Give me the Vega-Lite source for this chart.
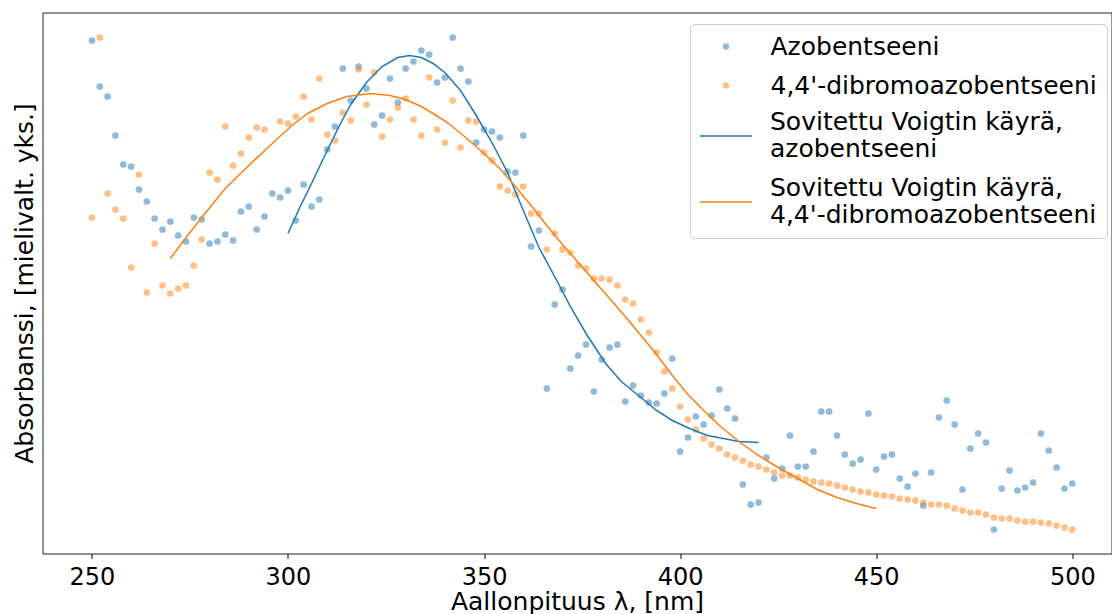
{
  "$schema": "https://vega.github.io/schema/vega-lite/v6.json",
  "autosize": {"type": "none"},
  "padding": {"left": 42.5, "top": 12.5, "right": 0.5, "bottom": 60.5},
  "width": 1069,
  "height": 541,
  "background": "white",
  "config": {
    "font": "DejaVu Sans",
    "view": {"stroke": "#222222", "strokeWidth": 1},
    "axis": {"grid": false, "titleFontWeight": "normal", "titleColor": "black", "labelColor": "black", "titleFont": "DejaVu Sans", "labelFont": "DejaVu Sans"}
  },
  "datasets": {
    "points": [
      {"wl":250,"abs":513,"series":"Azobentseeni"},{"wl":252,"abs":467,"series":"Azobentseeni"},{"wl":254,"abs":457,"series":"Azobentseeni"},{"wl":256,"abs":418,"series":"Azobentseeni"},{"wl":258,"abs":389,"series":"Azobentseeni"},{"wl":260,"abs":387,"series":"Azobentseeni"},{"wl":262,"abs":364,"series":"Azobentseeni"},{"wl":264,"abs":352,"series":"Azobentseeni"},{"wl":266,"abs":335,"series":"Azobentseeni"},{"wl":268,"abs":324,"series":"Azobentseeni"},{"wl":270,"abs":332,"series":"Azobentseeni"},{"wl":272,"abs":318,"series":"Azobentseeni"},{"wl":274,"abs":312,"series":"Azobentseeni"},{"wl":276,"abs":336,"series":"Azobentseeni"},{"wl":278,"abs":334,"series":"Azobentseeni"},{"wl":280,"abs":310,"series":"Azobentseeni"},{"wl":282,"abs":312,"series":"Azobentseeni"},{"wl":284,"abs":319,"series":"Azobentseeni"},{"wl":286,"abs":313,"series":"Azobentseeni"},{"wl":288,"abs":342,"series":"Azobentseeni"},{"wl":290,"abs":347,"series":"Azobentseeni"},{"wl":292,"abs":324,"series":"Azobentseeni"},{"wl":294,"abs":337,"series":"Azobentseeni"},{"wl":296,"abs":360,"series":"Azobentseeni"},{"wl":298,"abs":356,"series":"Azobentseeni"},{"wl":300,"abs":363,"series":"Azobentseeni"},{"wl":302,"abs":333,"series":"Azobentseeni"},{"wl":304,"abs":369,"series":"Azobentseeni"},{"wl":306,"abs":347,"series":"Azobentseeni"},{"wl":308,"abs":354,"series":"Azobentseeni"},{"wl":310,"abs":404,"series":"Azobentseeni"},{"wl":312,"abs":427,"series":"Azobentseeni"},{"wl":314,"abs":485,"series":"Azobentseeni"},{"wl":316,"abs":453,"series":"Azobentseeni"},{"wl":318,"abs":487,"series":"Azobentseeni"},{"wl":320,"abs":465,"series":"Azobentseeni"},{"wl":322,"abs":429,"series":"Azobentseeni"},{"wl":324,"abs":438,"series":"Azobentseeni"},{"wl":326,"abs":475,"series":"Azobentseeni"},{"wl":328,"abs":451,"series":"Azobentseeni"},{"wl":330,"abs":485,"series":"Azobentseeni"},{"wl":332,"abs":492,"series":"Azobentseeni"},{"wl":334,"abs":503,"series":"Azobentseeni"},{"wl":336,"abs":499,"series":"Azobentseeni"},{"wl":338,"abs":471,"series":"Azobentseeni"},{"wl":340,"abs":476,"series":"Azobentseeni"},{"wl":342,"abs":516,"series":"Azobentseeni"},{"wl":344,"abs":485,"series":"Azobentseeni"},{"wl":346,"abs":472,"series":"Azobentseeni"},{"wl":348,"abs":411,"series":"Azobentseeni"},{"wl":350,"abs":424,"series":"Azobentseeni"},{"wl":352,"abs":422,"series":"Azobentseeni"},{"wl":354,"abs":416,"series":"Azobentseeni"},{"wl":356,"abs":382,"series":"Azobentseeni"},{"wl":358,"abs":381,"series":"Azobentseeni"},{"wl":360,"abs":418,"series":"Azobentseeni"},{"wl":362,"abs":307,"series":"Azobentseeni"},{"wl":364,"abs":323,"series":"Azobentseeni"},{"wl":366,"abs":165,"series":"Azobentseeni"},{"wl":368,"abs":249,"series":"Azobentseeni"},{"wl":370,"abs":264,"series":"Azobentseeni"},{"wl":372,"abs":185,"series":"Azobentseeni"},{"wl":374,"abs":198,"series":"Azobentseeni"},{"wl":376,"abs":209,"series":"Azobentseeni"},{"wl":378,"abs":162,"series":"Azobentseeni"},{"wl":380,"abs":194,"series":"Azobentseeni"},{"wl":382,"abs":206,"series":"Azobentseeni"},{"wl":384,"abs":209,"series":"Azobentseeni"},{"wl":386,"abs":152,"series":"Azobentseeni"},{"wl":388,"abs":168,"series":"Azobentseeni"},{"wl":390,"abs":158,"series":"Azobentseeni"},{"wl":392,"abs":151,"series":"Azobentseeni"},{"wl":394,"abs":150,"series":"Azobentseeni"},{"wl":396,"abs":160,"series":"Azobentseeni"},{"wl":398,"abs":195,"series":"Azobentseeni"},{"wl":400,"abs":102,"series":"Azobentseeni"},{"wl":402,"abs":116,"series":"Azobentseeni"},{"wl":404,"abs":137,"series":"Azobentseeni"},{"wl":406,"abs":129,"series":"Azobentseeni"},{"wl":408,"abs":138,"series":"Azobentseeni"},{"wl":410,"abs":164,"series":"Azobentseeni"},{"wl":412,"abs":145,"series":"Azobentseeni"},{"wl":414,"abs":135,"series":"Azobentseeni"},{"wl":416,"abs":69,"series":"Azobentseeni"},{"wl":418,"abs":49,"series":"Azobentseeni"},{"wl":420,"abs":51,"series":"Azobentseeni"},{"wl":422,"abs":96,"series":"Azobentseeni"},{"wl":424,"abs":75,"series":"Azobentseeni"},{"wl":426,"abs":85,"series":"Azobentseeni"},{"wl":428,"abs":118,"series":"Azobentseeni"},{"wl":430,"abs":87,"series":"Azobentseeni"},{"wl":432,"abs":87,"series":"Azobentseeni"},{"wl":434,"abs":102,"series":"Azobentseeni"},{"wl":436,"abs":142,"series":"Azobentseeni"},{"wl":438,"abs":142,"series":"Azobentseeni"},{"wl":440,"abs":118,"series":"Azobentseeni"},{"wl":442,"abs":99,"series":"Azobentseeni"},{"wl":444,"abs":90,"series":"Azobentseeni"},{"wl":446,"abs":94,"series":"Azobentseeni"},{"wl":448,"abs":140,"series":"Azobentseeni"},{"wl":450,"abs":84,"series":"Azobentseeni"},{"wl":452,"abs":97,"series":"Azobentseeni"},{"wl":454,"abs":99,"series":"Azobentseeni"},{"wl":456,"abs":75,"series":"Azobentseeni"},{"wl":458,"abs":67,"series":"Azobentseeni"},{"wl":460,"abs":80,"series":"Azobentseeni"},{"wl":462,"abs":48,"series":"Azobentseeni"},{"wl":464,"abs":81,"series":"Azobentseeni"},{"wl":466,"abs":136,"series":"Azobentseeni"},{"wl":468,"abs":153,"series":"Azobentseeni"},{"wl":470,"abs":129,"series":"Azobentseeni"},{"wl":472,"abs":64,"series":"Azobentseeni"},{"wl":474,"abs":105,"series":"Azobentseeni"},{"wl":476,"abs":120,"series":"Azobentseeni"},{"wl":478,"abs":111,"series":"Azobentseeni"},{"wl":480,"abs":24,"series":"Azobentseeni"},{"wl":482,"abs":65,"series":"Azobentseeni"},{"wl":484,"abs":83,"series":"Azobentseeni"},{"wl":486,"abs":63,"series":"Azobentseeni"},{"wl":488,"abs":66,"series":"Azobentseeni"},{"wl":490,"abs":71,"series":"Azobentseeni"},{"wl":492,"abs":120,"series":"Azobentseeni"},{"wl":494,"abs":103,"series":"Azobentseeni"},{"wl":496,"abs":86,"series":"Azobentseeni"},{"wl":498,"abs":65,"series":"Azobentseeni"},{"wl":500,"abs":70,"series":"Azobentseeni"},
      {"wl":250,"abs":336,"series":"4,4'-dibromoazobentseeni"},{"wl":252,"abs":516,"series":"4,4'-dibromoazobentseeni"},{"wl":254,"abs":360,"series":"4,4'-dibromoazobentseeni"},{"wl":256,"abs":344,"series":"4,4'-dibromoazobentseeni"},{"wl":258,"abs":335,"series":"4,4'-dibromoazobentseeni"},{"wl":260,"abs":286,"series":"4,4'-dibromoazobentseeni"},{"wl":262,"abs":379,"series":"4,4'-dibromoazobentseeni"},{"wl":264,"abs":261,"series":"4,4'-dibromoazobentseeni"},{"wl":266,"abs":310,"series":"4,4'-dibromoazobentseeni"},{"wl":268,"abs":268,"series":"4,4'-dibromoazobentseeni"},{"wl":270,"abs":260,"series":"4,4'-dibromoazobentseeni"},{"wl":272,"abs":265,"series":"4,4'-dibromoazobentseeni"},{"wl":274,"abs":268,"series":"4,4'-dibromoazobentseeni"},{"wl":276,"abs":288,"series":"4,4'-dibromoazobentseeni"},{"wl":278,"abs":314,"series":"4,4'-dibromoazobentseeni"},{"wl":280,"abs":381,"series":"4,4'-dibromoazobentseeni"},{"wl":282,"abs":374,"series":"4,4'-dibromoazobentseeni"},{"wl":284,"abs":427,"series":"4,4'-dibromoazobentseeni"},{"wl":286,"abs":388,"series":"4,4'-dibromoazobentseeni"},{"wl":288,"abs":400,"series":"4,4'-dibromoazobentseeni"},{"wl":290,"abs":416,"series":"4,4'-dibromoazobentseeni"},{"wl":292,"abs":426,"series":"4,4'-dibromoazobentseeni"},{"wl":294,"abs":424,"series":"4,4'-dibromoazobentseeni"},{"wl":298,"abs":432,"series":"4,4'-dibromoazobentseeni"},{"wl":300,"abs":430,"series":"4,4'-dibromoazobentseeni"},{"wl":302,"abs":437,"series":"4,4'-dibromoazobentseeni"},{"wl":304,"abs":457,"series":"4,4'-dibromoazobentseeni"},{"wl":306,"abs":434,"series":"4,4'-dibromoazobentseeni"},{"wl":308,"abs":475,"series":"4,4'-dibromoazobentseeni"},{"wl":310,"abs":419,"series":"4,4'-dibromoazobentseeni"},{"wl":312,"abs":413,"series":"4,4'-dibromoazobentseeni"},{"wl":314,"abs":441,"series":"4,4'-dibromoazobentseeni"},{"wl":316,"abs":433,"series":"4,4'-dibromoazobentseeni"},{"wl":318,"abs":484,"series":"4,4'-dibromoazobentseeni"},{"wl":320,"abs":449,"series":"4,4'-dibromoazobentseeni"},{"wl":322,"abs":481,"series":"4,4'-dibromoazobentseeni"},{"wl":324,"abs":417,"series":"4,4'-dibromoazobentseeni"},{"wl":326,"abs":434,"series":"4,4'-dibromoazobentseeni"},{"wl":328,"abs":446,"series":"4,4'-dibromoazobentseeni"},{"wl":330,"abs":455,"series":"4,4'-dibromoazobentseeni"},{"wl":332,"abs":434,"series":"4,4'-dibromoazobentseeni"},{"wl":334,"abs":418,"series":"4,4'-dibromoazobentseeni"},{"wl":336,"abs":476,"series":"4,4'-dibromoazobentseeni"},{"wl":338,"abs":424,"series":"4,4'-dibromoazobentseeni"},{"wl":340,"abs":411,"series":"4,4'-dibromoazobentseeni"},{"wl":342,"abs":453,"series":"4,4'-dibromoazobentseeni"},{"wl":344,"abs":406,"series":"4,4'-dibromoazobentseeni"},{"wl":346,"abs":433,"series":"4,4'-dibromoazobentseeni"},{"wl":348,"abs":432,"series":"4,4'-dibromoazobentseeni"},{"wl":350,"abs":401,"series":"4,4'-dibromoazobentseeni"},{"wl":352,"abs":393,"series":"4,4'-dibromoazobentseeni"},{"wl":354,"abs":367,"series":"4,4'-dibromoazobentseeni"},{"wl":356,"abs":363,"series":"4,4'-dibromoazobentseeni"},{"wl":358,"abs":359,"series":"4,4'-dibromoazobentseeni"},{"wl":360,"abs":367,"series":"4,4'-dibromoazobentseeni"},{"wl":362,"abs":340,"series":"4,4'-dibromoazobentseeni"},{"wl":364,"abs":340,"series":"4,4'-dibromoazobentseeni"},{"wl":366,"abs":304,"series":"4,4'-dibromoazobentseeni"},{"wl":368,"abs":320,"series":"4,4'-dibromoazobentseeni"},{"wl":370,"abs":304,"series":"4,4'-dibromoazobentseeni"},{"wl":372,"abs":301,"series":"4,4'-dibromoazobentseeni"},{"wl":374,"abs":288,"series":"4,4'-dibromoazobentseeni"},{"wl":376,"abs":285,"series":"4,4'-dibromoazobentseeni"},{"wl":378,"abs":275,"series":"4,4'-dibromoazobentseeni"},{"wl":380,"abs":275,"series":"4,4'-dibromoazobentseeni"},{"wl":382,"abs":274,"series":"4,4'-dibromoazobentseeni"},{"wl":384,"abs":268,"series":"4,4'-dibromoazobentseeni"},{"wl":386,"abs":254,"series":"4,4'-dibromoazobentseeni"},{"wl":388,"abs":250,"series":"4,4'-dibromoazobentseeni"},{"wl":390,"abs":234,"series":"4,4'-dibromoazobentseeni"},{"wl":392,"abs":221,"series":"4,4'-dibromoazobentseeni"},{"wl":394,"abs":201,"series":"4,4'-dibromoazobentseeni"},{"wl":396,"abs":182,"series":"4,4'-dibromoazobentseeni"},{"wl":398,"abs":165,"series":"4,4'-dibromoazobentseeni"},{"wl":400,"abs":147,"series":"4,4'-dibromoazobentseeni"},{"wl":402,"abs":134,"series":"4,4'-dibromoazobentseeni"},{"wl":404,"abs":124,"series":"4,4'-dibromoazobentseeni"},{"wl":406,"abs":115,"series":"4,4'-dibromoazobentseeni"},{"wl":408,"abs":109,"series":"4,4'-dibromoazobentseeni"},{"wl":410,"abs":105,"series":"4,4'-dibromoazobentseeni"},{"wl":412,"abs":99,"series":"4,4'-dibromoazobentseeni"},{"wl":414,"abs":96,"series":"4,4'-dibromoazobentseeni"},{"wl":416,"abs":93,"series":"4,4'-dibromoazobentseeni"},{"wl":418,"abs":89,"series":"4,4'-dibromoazobentseeni"},{"wl":420,"abs":87,"series":"4,4'-dibromoazobentseeni"},{"wl":422,"abs":84,"series":"4,4'-dibromoazobentseeni"},{"wl":424,"abs":81,"series":"4,4'-dibromoazobentseeni"},{"wl":426,"abs":78,"series":"4,4'-dibromoazobentseeni"},{"wl":428,"abs":78,"series":"4,4'-dibromoazobentseeni"},{"wl":430,"abs":76,"series":"4,4'-dibromoazobentseeni"},{"wl":432,"abs":74,"series":"4,4'-dibromoazobentseeni"},{"wl":434,"abs":72,"series":"4,4'-dibromoazobentseeni"},{"wl":436,"abs":71,"series":"4,4'-dibromoazobentseeni"},{"wl":438,"abs":70,"series":"4,4'-dibromoazobentseeni"},{"wl":440,"abs":68,"series":"4,4'-dibromoazobentseeni"},{"wl":442,"abs":66,"series":"4,4'-dibromoazobentseeni"},{"wl":444,"abs":64,"series":"4,4'-dibromoazobentseeni"},{"wl":446,"abs":62,"series":"4,4'-dibromoazobentseeni"},{"wl":448,"abs":61,"series":"4,4'-dibromoazobentseeni"},{"wl":450,"abs":59,"series":"4,4'-dibromoazobentseeni"},{"wl":452,"abs":58,"series":"4,4'-dibromoazobentseeni"},{"wl":454,"abs":57,"series":"4,4'-dibromoazobentseeni"},{"wl":456,"abs":55,"series":"4,4'-dibromoazobentseeni"},{"wl":458,"abs":54,"series":"4,4'-dibromoazobentseeni"},{"wl":460,"abs":53,"series":"4,4'-dibromoazobentseeni"},{"wl":462,"abs":51,"series":"4,4'-dibromoazobentseeni"},{"wl":464,"abs":49,"series":"4,4'-dibromoazobentseeni"},{"wl":466,"abs":49,"series":"4,4'-dibromoazobentseeni"},{"wl":468,"abs":48,"series":"4,4'-dibromoazobentseeni"},{"wl":470,"abs":45,"series":"4,4'-dibromoazobentseeni"},{"wl":472,"abs":43,"series":"4,4'-dibromoazobentseeni"},{"wl":474,"abs":41,"series":"4,4'-dibromoazobentseeni"},{"wl":476,"abs":41,"series":"4,4'-dibromoazobentseeni"},{"wl":478,"abs":39,"series":"4,4'-dibromoazobentseeni"},{"wl":480,"abs":36,"series":"4,4'-dibromoazobentseeni"},{"wl":482,"abs":35,"series":"4,4'-dibromoazobentseeni"},{"wl":484,"abs":35,"series":"4,4'-dibromoazobentseeni"},{"wl":486,"abs":33,"series":"4,4'-dibromoazobentseeni"},{"wl":488,"abs":32,"series":"4,4'-dibromoazobentseeni"},{"wl":490,"abs":32,"series":"4,4'-dibromoazobentseeni"},{"wl":492,"abs":31,"series":"4,4'-dibromoazobentseeni"},{"wl":494,"abs":30,"series":"4,4'-dibromoazobentseeni"},{"wl":496,"abs":28,"series":"4,4'-dibromoazobentseeni"},{"wl":498,"abs":26,"series":"4,4'-dibromoazobentseeni"},{"wl":500,"abs":24,"series":"4,4'-dibromoazobentseeni"}
    ],
    "fits": [
      {"wl":300,"abs":320,"series":"Sovitettu Voigtin käyrä,|azobentseeni"},{"wl":303,"abs":346,"series":"Sovitettu Voigtin käyrä,|azobentseeni"},{"wl":306,"abs":370,"series":"Sovitettu Voigtin käyrä,|azobentseeni"},{"wl":310,"abs":403,"series":"Sovitettu Voigtin käyrä,|azobentseeni"},{"wl":313,"abs":427,"series":"Sovitettu Voigtin käyrä,|azobentseeni"},{"wl":316,"abs":449,"series":"Sovitettu Voigtin käyrä,|azobentseeni"},{"wl":320,"abs":471,"series":"Sovitettu Voigtin käyrä,|azobentseeni"},{"wl":324,"abs":487,"series":"Sovitettu Voigtin käyrä,|azobentseeni"},{"wl":328,"abs":496,"series":"Sovitettu Voigtin käyrä,|azobentseeni"},{"wl":331,"abs":498,"series":"Sovitettu Voigtin käyrä,|azobentseeni"},{"wl":334,"abs":496,"series":"Sovitettu Voigtin käyrä,|azobentseeni"},{"wl":337,"abs":490,"series":"Sovitettu Voigtin käyrä,|azobentseeni"},{"wl":340,"abs":481,"series":"Sovitettu Voigtin käyrä,|azobentseeni"},{"wl":344,"abs":463,"series":"Sovitettu Voigtin käyrä,|azobentseeni"},{"wl":348,"abs":438,"series":"Sovitettu Voigtin käyrä,|azobentseeni"},{"wl":352,"abs":411,"series":"Sovitettu Voigtin käyrä,|azobentseeni"},{"wl":356,"abs":381,"series":"Sovitettu Voigtin käyrä,|azobentseeni"},{"wl":360,"abs":343,"series":"Sovitettu Voigtin käyrä,|azobentseeni"},{"wl":364,"abs":306,"series":"Sovitettu Voigtin käyrä,|azobentseeni"},{"wl":368,"abs":277,"series":"Sovitettu Voigtin käyrä,|azobentseeni"},{"wl":372,"abs":247,"series":"Sovitettu Voigtin käyrä,|azobentseeni"},{"wl":376,"abs":220,"series":"Sovitettu Voigtin käyrä,|azobentseeni"},{"wl":381,"abs":190,"series":"Sovitettu Voigtin käyrä,|azobentseeni"},{"wl":385,"abs":172,"series":"Sovitettu Voigtin käyrä,|azobentseeni"},{"wl":390,"abs":156,"series":"Sovitettu Voigtin käyrä,|azobentseeni"},{"wl":394,"abs":143,"series":"Sovitettu Voigtin käyrä,|azobentseeni"},{"wl":398,"abs":133,"series":"Sovitettu Voigtin käyrä,|azobentseeni"},{"wl":403,"abs":124,"series":"Sovitettu Voigtin käyrä,|azobentseeni"},{"wl":407,"abs":118,"series":"Sovitettu Voigtin käyrä,|azobentseeni"},{"wl":411,"abs":115,"series":"Sovitettu Voigtin käyrä,|azobentseeni"},{"wl":415,"abs":112,"series":"Sovitettu Voigtin käyrä,|azobentseeni"},{"wl":420,"abs":111,"series":"Sovitettu Voigtin käyrä,|azobentseeni"},
      {"wl":270,"abs":295,"series":"Sovitettu Voigtin käyrä,|4,4'-dibromoazobentseeni"},{"wl":274,"abs":316,"series":"Sovitettu Voigtin käyrä,|4,4'-dibromoazobentseeni"},{"wl":278,"abs":336,"series":"Sovitettu Voigtin käyrä,|4,4'-dibromoazobentseeni"},{"wl":284,"abs":365,"series":"Sovitettu Voigtin käyrä,|4,4'-dibromoazobentseeni"},{"wl":290,"abs":388,"series":"Sovitettu Voigtin käyrä,|4,4'-dibromoazobentseeni"},{"wl":296,"abs":410,"series":"Sovitettu Voigtin käyrä,|4,4'-dibromoazobentseeni"},{"wl":301,"abs":428,"series":"Sovitettu Voigtin käyrä,|4,4'-dibromoazobentseeni"},{"wl":305,"abs":440,"series":"Sovitettu Voigtin käyrä,|4,4'-dibromoazobentseeni"},{"wl":310,"abs":450,"series":"Sovitettu Voigtin käyrä,|4,4'-dibromoazobentseeni"},{"wl":315,"abs":457,"series":"Sovitettu Voigtin käyrä,|4,4'-dibromoazobentseeni"},{"wl":321,"abs":460,"series":"Sovitettu Voigtin käyrä,|4,4'-dibromoazobentseeni"},{"wl":326,"abs":458,"series":"Sovitettu Voigtin käyrä,|4,4'-dibromoazobentseeni"},{"wl":330,"abs":454,"series":"Sovitettu Voigtin käyrä,|4,4'-dibromoazobentseeni"},{"wl":334,"abs":447,"series":"Sovitettu Voigtin käyrä,|4,4'-dibromoazobentseeni"},{"wl":337,"abs":440,"series":"Sovitettu Voigtin käyrä,|4,4'-dibromoazobentseeni"},{"wl":341,"abs":430,"series":"Sovitettu Voigtin käyrä,|4,4'-dibromoazobentseeni"},{"wl":345,"abs":417,"series":"Sovitettu Voigtin käyrä,|4,4'-dibromoazobentseeni"},{"wl":350,"abs":400,"series":"Sovitettu Voigtin käyrä,|4,4'-dibromoazobentseeni"},{"wl":354,"abs":385,"series":"Sovitettu Voigtin käyrä,|4,4'-dibromoazobentseeni"},{"wl":358,"abs":367,"series":"Sovitettu Voigtin käyrä,|4,4'-dibromoazobentseeni"},{"wl":362,"abs":348,"series":"Sovitettu Voigtin käyrä,|4,4'-dibromoazobentseeni"},{"wl":366,"abs":328,"series":"Sovitettu Voigtin käyrä,|4,4'-dibromoazobentseeni"},{"wl":370,"abs":309,"series":"Sovitettu Voigtin käyrä,|4,4'-dibromoazobentseeni"},{"wl":374,"abs":291,"series":"Sovitettu Voigtin käyrä,|4,4'-dibromoazobentseeni"},{"wl":378,"abs":273,"series":"Sovitettu Voigtin käyrä,|4,4'-dibromoazobentseeni"},{"wl":382,"abs":255,"series":"Sovitettu Voigtin käyrä,|4,4'-dibromoazobentseeni"},{"wl":386,"abs":237,"series":"Sovitettu Voigtin käyrä,|4,4'-dibromoazobentseeni"},{"wl":390,"abs":218,"series":"Sovitettu Voigtin käyrä,|4,4'-dibromoazobentseeni"},{"wl":394,"abs":199,"series":"Sovitettu Voigtin käyrä,|4,4'-dibromoazobentseeni"},{"wl":398,"abs":178,"series":"Sovitettu Voigtin käyrä,|4,4'-dibromoazobentseeni"},{"wl":402,"abs":159,"series":"Sovitettu Voigtin käyrä,|4,4'-dibromoazobentseeni"},{"wl":406,"abs":143,"series":"Sovitettu Voigtin käyrä,|4,4'-dibromoazobentseeni"},{"wl":410,"abs":128,"series":"Sovitettu Voigtin käyrä,|4,4'-dibromoazobentseeni"},{"wl":415,"abs":112,"series":"Sovitettu Voigtin käyrä,|4,4'-dibromoazobentseeni"},{"wl":420,"abs":98,"series":"Sovitettu Voigtin käyrä,|4,4'-dibromoazobentseeni"},{"wl":425,"abs":86,"series":"Sovitettu Voigtin käyrä,|4,4'-dibromoazobentseeni"},{"wl":430,"abs":75,"series":"Sovitettu Voigtin käyrä,|4,4'-dibromoazobentseeni"},{"wl":435,"abs":64,"series":"Sovitettu Voigtin käyrä,|4,4'-dibromoazobentseeni"},{"wl":440,"abs":56,"series":"Sovitettu Voigtin käyrä,|4,4'-dibromoazobentseeni"},{"wl":445,"abs":50,"series":"Sovitettu Voigtin käyrä,|4,4'-dibromoazobentseeni"},{"wl":450,"abs":45,"series":"Sovitettu Voigtin käyrä,|4,4'-dibromoazobentseeni"}
    ]
  },
  "encoding": {
    "x": {
      "field": "wl", "type": "quantitative",
      "scale": {"domain": [237.4, 510], "nice": false, "zero": false},
      "axis": {"title": "Aallonpituus λ, [nm]", "values": [250, 300, 350, 400, 450, 500], "domain": false, "ticks": true, "tickSize": 5, "tickColor": "black", "labelFontSize": 24, "labelPadding": 7, "titleFontSize": 25, "titlePadding": 0, "labelFlush": false}
    },
    "y": {
      "field": "abs", "type": "quantitative",
      "scale": {"domain": [0, 541], "nice": false, "zero": false},
      "axis": {"title": "Absorbanssi, [mielivalt. yks.]", "labels": false, "ticks": false, "domain": false, "titleFontSize": 25, "titlePadding": 5}
    }
  },
  "layer": [
    {
      "data": {"name": "points"},
      "mark": {"type": "point", "filled": true, "opacity": 0.5, "size": 45, "strokeWidth": 0},
      "encoding": {
        "fill": {
          "field": "series", "type": "nominal",
          "scale": {"domain": ["Azobentseeni", "4,4'-dibromoazobentseeni"], "range": ["#1f77b4", "#ff7f0e"]},
          "legend": {
            "title": null,
            "orient": "none",
            "legendX": 647.5,
            "legendY": 11.5,
            "labelFontSize": 25,
            "labelFont": "DejaVu Sans",
            "labelColor": "black",
            "labelLimit": 600,
            "labelOffset": 32,
            "symbolOffset": 13.5,
            "symbolSize": 40,
            "symbolType": "circle",
            "rowPadding": 13,
            "padding": 10,
            "fillColor": null,
            "strokeColor": null
          }
        }
      }
    },
    {
      "data": {"name": "fits"},
      "mark": {"type": "line", "strokeWidth": 1.5},
      "encoding": {
        "stroke": {
          "field": "series", "type": "nominal",
          "scale": {"domain": ["Sovitettu Voigtin käyrä,|azobentseeni", "Sovitettu Voigtin käyrä,|4,4'-dibromoazobentseeni"], "range": ["#1f77b4", "#ff7f0e"]},
          "legend": {
            "title": " ",
            "titleFontSize": 25,
            "titlePadding": 50,
            "orient": "none",
            "legendX": 647.5,
            "legendY": 11.5,
            "labelExpr": "split(datum.label, '|')",
            "labelFontSize": 25,
            "labelFont": "DejaVu Sans",
            "labelColor": "black",
            "labelBaseline": "line-bottom",
            "labelLimit": 600,
            "labelOffset": 17,
            "symbolOffset": -1,
            "symbolSize": 2704,
            "symbolType": "stroke",
            "symbolStrokeWidth": 1.5,
            "rowPadding": 13,
            "padding": 10,
            "fillColor": null,
            "strokeColor": "#cccccc",
            "cornerRadius": 4
          }
        }
      }
    },
    {
      "mark": {"type": "rule", "color": "#ff7f0e", "strokeWidth": 1.5, "strokeDash": [5.5, 2.4]},
      "encoding": {"x": {"datum": 321}, "y": null}
    },
    {
      "mark": {"type": "rule", "color": "#1f77b4", "strokeWidth": 1.5, "strokeDash": [5.5, 2.4]},
      "encoding": {"x": {"datum": 331}, "y": null}
    },
    {
      "mark": {"type": "text", "color": "#ff7f0e", "fontSize": 25, "font": "DejaVu Sans", "align": "center", "baseline": "middle"},
      "encoding": {"x": {"datum": 321}, "y": {"datum": 72}, "text": {"value": "321 nm"}}
    },
    {
      "mark": {"type": "text", "color": "#1f77b4", "fontSize": 25, "font": "DejaVu Sans", "align": "center", "baseline": "middle"},
      "encoding": {"x": {"datum": 331}, "y": {"datum": 33}, "text": {"value": "331 nm"}}
    }
  ]
}
